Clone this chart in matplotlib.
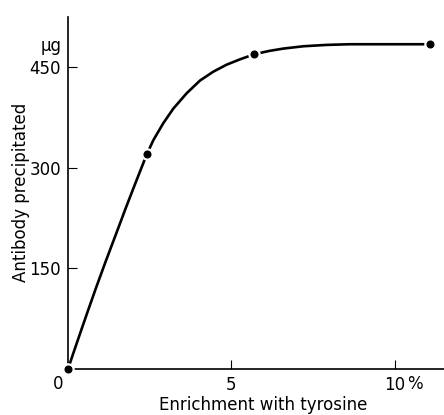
import matplotlib
matplotlib.use("Agg")
import matplotlib.pyplot as plt

# Data
curve_x = [0, 0.18, 0.37, 0.59, 0.85, 1.15, 1.46, 1.76, 2.07, 2.41, 2.61, 2.91, 3.22, 3.63,
           4.04, 4.44, 4.85, 5.26, 5.69, 6.15, 6.58, 7.20, 7.9, 8.62, 10.15, 11.07]
curve_y = [0, 26, 53, 84, 120, 160, 200, 239, 278, 320, 341, 366, 388, 411,
           430, 443, 453.5, 461.5, 469, 474, 477.5, 481, 483, 484, 484, 484]
point_x = [0, 2.41, 5.69, 11.07]
point_y = [0, 320, 469, 484]
xticks = [5, 10]
xticklabels = ["5", "10"]
yticks = [150, 300, 450]
yticklabels = ["150", "300", "450"]

W, H = 444, 415
fig = plt.figure(figsize=(W / 100, H / 100), dpi=100)
left, right, top, bottom = 68, 444, 17, 369
ax = fig.add_axes([left / W, (H - bottom) / H, (right - left) / W, (bottom - top) / H])
ax.set_xlim(0, 11.5)
ax.set_ylim(0, 524.6)

ax.plot(curve_x, curve_y, color="black", lw=1.9, solid_capstyle="round", solid_joinstyle="round",
        clip_on=False, zorder=2)
# white halo then black dot
ax.plot(point_x, point_y, ls="none", marker="o", ms=9, mfc="white", mec="none",
        clip_on=False, zorder=3)
ax.plot(point_x, point_y, ls="none", marker="o", ms=5.8, mfc="black", mec="none",
        clip_on=False, zorder=4)

for s in ["top", "right"]:
    ax.spines[s].set_visible(False)
for s in ["left", "bottom"]:
    ax.spines[s].set_linewidth(1.2)
    ax.spines[s].set_zorder(1)

ax.set_xticks(xticks)
ax.set_xticklabels(xticklabels)
ax.set_yticks(yticks)
ax.set_yticklabels(yticklabels)
ax.tick_params(direction="in", length=6.5, width=0.8, labelsize=12, pad=5)

ax.annotate("0", xy=(0, 0), xycoords="data", xytext=(-9.5, -15), textcoords="offset pixels",
            ha="center", va="center", fontsize=12)
ax.annotate("%", xy=(10, 0), xycoords="data", xytext=(20, -15), textcoords="offset pixels",
            ha="center", va="center", fontsize=12)
ax.annotate("μg", xy=(0, 450), xycoords="data", xytext=(-6, 21), textcoords="offset pixels",
            ha="right", va="center", fontsize=12)

fig.text(21 / W, 1 - 192.5 / H, "Antibody precipitated", rotation=90, ha="center", va="center", fontsize=12)
fig.text(263 / W, 1 - 405 / H, "Enrichment with tyrosine", ha="center", va="center", fontsize=12)

fig.savefig("out.png", dpi=100)
